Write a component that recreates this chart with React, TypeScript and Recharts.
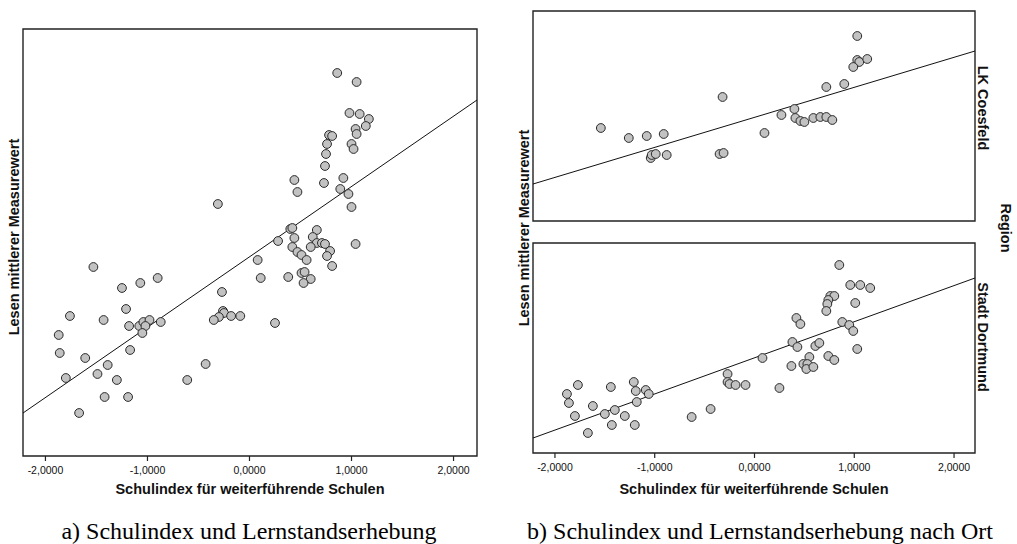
import React from "react";
import { ScatterChart, Scatter, XAxis, YAxis, ReferenceLine, ReferenceArea } from "recharts";

// Panel a) all schools
const schulindexA = [
  0.86, 1.05, 0.98, 1.08, 1.17, 1.14, 1.04, 1.05, 0.78, 0.81, 0.76, 1.0, 1.02, 0.75, 0.74, 0.44, 0.47, 0.73, 0.92, 0.89,
  0.97, 1.0, -0.31, 0.4, 0.42, 0.66, 0.28, 0.44, 0.62, 0.66, 0.71, 0.74, 1.04, 0.42, 0.6, 0.47, 0.51, 0.56, 0.79, 0.76,
  0.81, 0.08, 0.11, 0.38, 0.51, 0.54, 0.6, 0.53, -1.53, -1.07, -0.9, -1.25, -0.27, -1.21, -1.76, -1.43, -1.18, -1.08,
  -1.04, -0.98, -1.02, -0.87, -1.05, -0.26, -0.25, -0.3, -0.35, -0.18, -0.09, 0.25, -1.87, -1.86, -1.61, -1.17, -1.39,
  -1.8, -1.49, -1.3, -0.61, -0.43, -1.42, -1.19, -1.67,
];
const lesenA = [
  383, 374, 343, 342, 337, 330, 327, 322, 321, 320, 312, 312, 307, 302, 290, 276, 264, 273, 278, 267,
  262, 249, 252, 227, 228, 226, 215, 218, 219, 213, 213, 212, 212, 209, 209, 204, 201, 196, 205, 200,
  190, 196, 178, 179, 183, 184, 177, 173, 189, 173, 178, 168, 164, 147, 140, 136, 130, 130,
  134, 136, 130, 134, 123, 145, 143, 139, 136, 140, 140, 133, 121, 103, 98, 106, 91,
  78, 82, 76, 76, 92, 59, 59, 43,
];
const lineA = [{ x: -2.22, y: 43 }, { x: 2.23, y: 356 }];

// Panel b) LK Coesfeld
const schulindexCoesfeld = [
  1.03, 1.03, 1.05, 1.13, 0.99, 0.9, 0.72, -0.32, 0.4, 0.27, 0.41, 0.46, 0.5, 0.59, 0.66, 0.72, 0.78, 0.1,
  -1.54, -1.26, -1.08, -0.91, -1.04, -1.03, -0.99, -0.88, -0.35, -0.31,
];
const lesenCoesfeld = [
  185, 161, 159, 162, 154, 137, 134, 124, 112, 106, 103, 100, 99, 103, 104, 104, 101, 88,
  93, 83, 85, 87, 63, 66, 67, 66, 67, 68,
];
const lineCoesfeld = [{ x: -2.22, y: 37 }, { x: 2.21, y: 170 }];

// Panel b) Stadt Dortmund
const schulindexDortmund = [
  0.85, 0.96, 1.06, 1.16, 0.76, 0.8, 0.74, 0.73, 0.72, 1.01, 0.42, 0.46, 0.88, 0.95, 0.99, 0.38, 0.43, 0.61, 0.65, 1.03,
  0.08, 0.55, 0.74, 0.8, 0.37, 0.49, 0.53, 0.52, 0.59, -0.27, -0.27, -0.25, -0.19, -0.09, 0.25, -0.44, -0.63,
  -1.88, -1.86, -1.77, -1.8, -1.62, -1.67, -1.5, -1.44, -1.4, -1.43, -1.3, -1.21, -1.19, -1.18, -1.2, -1.09, -1.06,
];
const lesenDortmund = [
  188, 168, 168, 165, 157, 157, 153, 149, 142, 150, 135, 129, 131, 128, 122, 111, 106, 107, 110, 104,
  95, 96, 97, 93, 87, 89, 89, 84, 86, 79, 71, 69, 68, 68, 65, 44, 36,
  59, 50, 68, 37, 47, 20, 39, 66, 43, 28, 37, 71, 62, 51, 28, 63, 59,
];
const lineDortmund = [{ x: -2.22, y: 15 }, { x: 2.21, y: 175 }];

const xTicks = [-2, -1, 0, 1, 2];
const xTitle = "Schulindex für weiterführende Schulen";
const yTitle = "Lesen mittlerer Measurewert";
const regionLabels = ["LK Coesfeld", "Stadt Dortmund"];
const regionTitle = "Region";
const captionA = "a) Schulindex und Lernstandserhebung";
const captionB = "b) Schulindex und Lernstandserhebung nach Ort";

const zip = (xs: number[], ys: number[]) => xs.map((x, i) => ({ x, y: ys[i] }));
const dataA = zip(schulindexA, lesenA);
const dataCoesfeld = zip(schulindexCoesfeld, lesenCoesfeld);
const dataDortmund = zip(schulindexDortmund, lesenDortmund);

const SANS = "'Liberation Sans', Arial, sans-serif";
const SERIF = "'Liberation Serif', 'Times New Roman', serif";
const fmt = (v: number) => v.toFixed(4).replace(".", ",");

const Dot = (props: any) => {
  const { cx, cy } = props;
  if (cx == null || cy == null) return null;
  return <circle cx={cx} cy={cy} r={4.4} fill="#c2c2c2" stroke="#2a2a2a" strokeWidth={1} />;
};

type PanelProps = {
  data: { x: number; y: number }[];
  line: { x: number; y: number }[];
  xDomain: [number, number];
  yDomain: [number, number];
  margin: { top: number; left: number; right: number; bottom: number };
  showX: boolean;
};

const Panel = ({ data, line, xDomain, yDomain, margin, showX }: PanelProps) => (
  <div style={{ position: "absolute", left: 0, top: 0 }}>
    <ScatterChart width={1017} height={544} margin={margin}>
      <XAxis
        type="number"
        dataKey="x"
        domain={xDomain}
        ticks={xTicks}
        tickFormatter={fmt}
        allowDataOverflow
        hide={!showX}
        height={30}
        axisLine={false}
        tickLine={{ stroke: "#222", strokeWidth: 1.2 }}
        tickSize={5}
        tickMargin={6}
        tick={{ fontSize: 10.5, fill: "#111", fontFamily: SANS }}
        interval={0}
      />
      <YAxis type="number" dataKey="y" domain={yDomain} allowDataOverflow hide />
      <ReferenceLine segment={line} stroke="#111" strokeWidth={1} ifOverflow="visible" />
      <Scatter data={data} shape={<Dot />} isAnimationActive={false} />
      <ReferenceArea
        x1={xDomain[0]}
        x2={xDomain[1]}
        y1={yDomain[0]}
        y2={yDomain[1]}
        fill="none"
        fillOpacity={0}
        stroke="#222"
        strokeWidth={1.4}
        ifOverflow="visible"
      />
    </ScatterChart>
  </div>
);

const Txt = ({ x, y, rot, children, style }: any) => (
  <div
    style={{
      position: "absolute",
      left: x,
      top: y,
      transform: `translate(-50%, -50%)${rot ? ` rotate(${rot}deg)` : ""}`,
      whiteSpace: "nowrap",
      fontFamily: SANS,
      fontWeight: "bold",
      fontSize: 14.5,
      color: "#111",
      lineHeight: 1,
      ...style,
    }}
  >
    {children}
  </div>
);

const captionStyle = { fontFamily: SERIF, fontWeight: "normal", fontSize: 24, color: "#000" };

export default function App() {
  return (
    <div style={{ position: "absolute", left: 0, top: 0, width: 1017, height: 544, background: "#fff", overflow: "hidden" }}>
      <Panel
        data={dataA}
        line={lineA}
        xDomain={[-2.22, 2.23]}
        yDomain={[0, 427]}
        margin={{ top: 29, left: 23, right: 540, bottom: 58 }}
        showX
      />
      <Panel
        data={dataCoesfeld}
        line={lineCoesfeld}
        xDomain={[-2.22, 2.21]}
        yDomain={[0, 210]}
        margin={{ top: 11, left: 533, right: 42, bottom: 323 }}
        showX={false}
      />
      <Panel
        data={dataDortmund}
        line={lineDortmund}
        xDomain={[-2.22, 2.21]}
        yDomain={[0, 210]}
        margin={{ top: 243, left: 533, right: 42, bottom: 61 }}
        showX
      />
      <Txt x={14} y={237} rot={-90}>{yTitle}</Txt>
      <Txt x={524} y={228} rot={-90}>{yTitle}</Txt>
      <Txt x={250} y={489}>{xTitle}</Txt>
      <Txt x={754} y={489}>{xTitle}</Txt>
      <Txt x={983} y={108} rot={90}>{regionLabels[0]}</Txt>
      <Txt x={983} y={337} rot={90}>{regionLabels[1]}</Txt>
      <Txt x={1006} y={228} rot={90}>{regionTitle}</Txt>
      <Txt x={249} y={531} style={captionStyle}>{captionA}</Txt>
      <Txt x={760} y={531} style={captionStyle}>{captionB}</Txt>
    </div>
  );
}
